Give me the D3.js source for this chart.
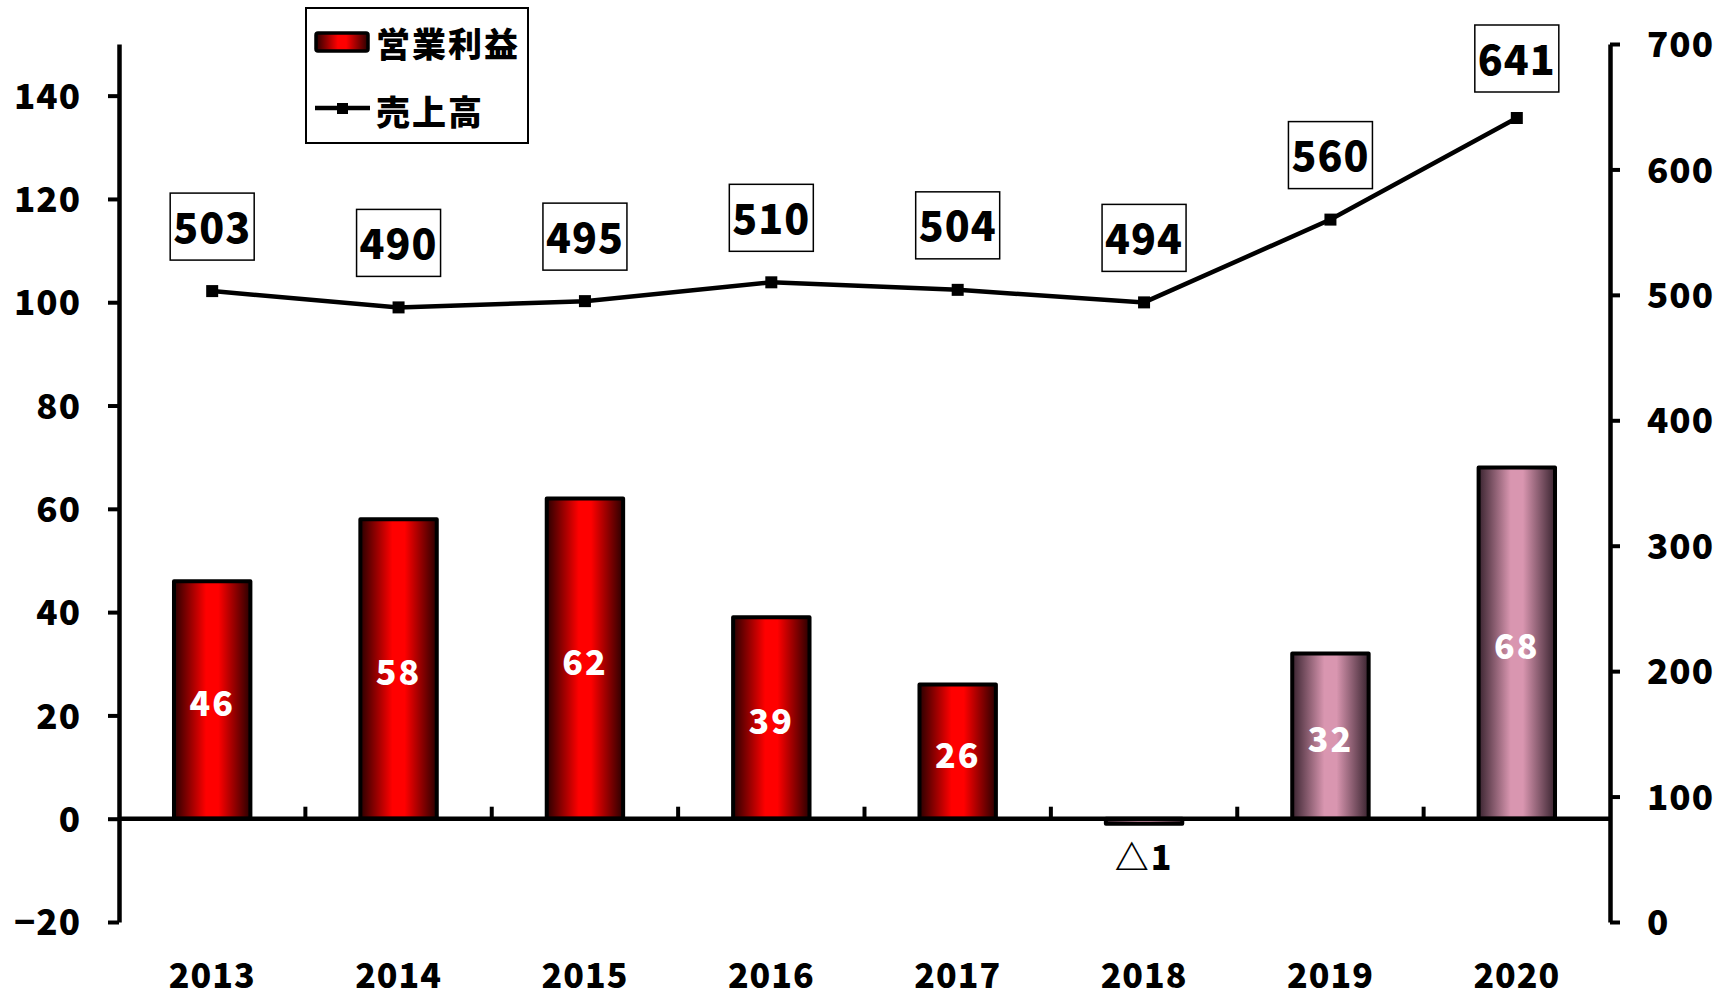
<!DOCTYPE html>
<html>
<head>
<meta charset="utf-8">
<script src="https://cdn.jsdelivr.net/npm/d3@7"></script>
<style>
  body { margin: 0; background: #fff; }
  svg { display: block; }
  text { font-family: "Noto Sans CJK JP", "Noto Sans", sans-serif; font-weight: 900; }
</style>
</head>
<body>
<svg id="chart" width="1733" height="997"></svg>
<script>
var years = ["2013", "2014", "2015", "2016", "2017", "2018", "2019", "2020"];
var profit = [46, 58, 62, 39, 26, -1, 32, 68];     // 営業利益 (left axis)
var sales = [503, 490, 495, 510, 504, 494, 560, 641]; // 売上高 (right axis)
var leftTicks = [-20, 0, 20, 40, 60, 80, 100, 120, 140];
var rightTicks = [0, 100, 200, 300, 400, 500, 600, 700];

var svg = d3.select("#chart");
var plotL = 119, plotR = 1610, plotT = 44, plotB = 922;

var x = d3.scaleBand().domain(years).range([plotL, plotR]).padding(0);
var yL = d3.scaleLinear().domain([-20, 150]).range([plotB, plotT]);
var yR = d3.scaleLinear().domain([0, 700]).range([plotB, plotT]);

// gradients
var defs = svg.append("defs");
function grad(id, edge, mid) {
    var g = defs.append("linearGradient").attr("id", id)
        .attr("x1", "0%").attr("x2", "100%").attr("y1", "0%").attr("y2", "0%");
    g.append("stop").attr("offset", "0%").attr("stop-color", edge);
    g.append("stop").attr("offset", "42%").attr("stop-color", mid);
    g.append("stop").attr("offset", "58%").attr("stop-color", mid);
    g.append("stop").attr("offset", "100%").attr("stop-color", edge);
}
grad("redGrad", "#2a0000", "#ff0000");
grad("pinkGrad", "#3a2430", "#d996b0");

// bars
var barW = x.bandwidth() * 0.41;
svg.selectAll(".bar")
    .data(profit)
    .enter().append("rect")
    .attr("class", "bar")
    .attr("x", function (d, i) { return x(years[i]) + (x.bandwidth() - barW) / 2; })
    .attr("y", function (d) { return yL(Math.max(0, d)); })
    .attr("width", barW)
    .attr("height", function (d) { return Math.abs(yL(d) - yL(0)); })
    .style("fill", function (d, i) { return i >= 5 ? "url(#pinkGrad)" : "url(#redGrad)"; })
    .style("stroke", "#000")
    .style("stroke-width", 4)
    .style("stroke-linejoin", "round");

// zero line and category ticks
svg.append("line")
    .attr("x1", plotL).attr("x2", plotR)
    .attr("y1", yL(0)).attr("y2", yL(0))
    .style("stroke", "#000").style("stroke-width", 4.5);

svg.selectAll(".ctick")
    .data(years.slice(1))
    .enter().append("line")
    .attr("x1", function (d) { return x(d); })
    .attr("x2", function (d) { return x(d); })
    .attr("y1", yL(0)).attr("y2", yL(0) - 12)
    .style("stroke", "#000").style("stroke-width", 4);

// left axis
var gl = svg.append("g")
    .attr("transform", "translate(" + plotL + ",0)")
    .call(d3.axisLeft(yL).tickValues(leftTicks).tickSize(11).tickSizeOuter(0).tickPadding(27));
// right axis
var gr = svg.append("g")
    .attr("transform", "translate(" + plotR + ",0)")
    .call(d3.axisRight(yR).tickValues(rightTicks).tickSize(10).tickSizeOuter(0).tickPadding(27));

[gl, gr].forEach(function (g) {
    g.select(".domain").style("stroke", "#000").style("stroke-width", 4.5);
    g.selectAll(".tick line").style("stroke", "#000").style("stroke-width", 4);
    g.selectAll(".tick text")
        .style("font-size", "35px")
        .style("font-family", "'Noto Sans CJK JP', sans-serif")
        .style("font-weight", "900")
        .style("letter-spacing", "1px")
        .style("fill", "#000")
        .attr("dy", "0.36em")
        .text(function (d) { return d < 0 ? "\u2212" + Math.abs(d) : d; });
});

// x labels
svg.selectAll(".xlab")
    .data(years)
    .enter().append("text")
    .attr("x", function (d) { return x(d) + x.bandwidth() / 2; })
    .attr("y", 988)
    .attr("text-anchor", "middle")
    .style("font-size", "34px")
    .style("letter-spacing", "1px")
    .text(function (d) { return d; });

// bar labels
svg.selectAll(".blab")
    .data(profit)
    .enter().append("text")
    .attr("x", function (d, i) { return x(years[i]) + x.bandwidth() / 2; })
    .attr("y", function (d) {
        if (d < 0) return yL(d) + 46;
        return (yL(d) + yL(0)) / 2 + 16;
    })
    .attr("text-anchor", "middle")
    .style("font-size", "34px")
    .style("letter-spacing", "2px")
    .style("fill", function (d) { return d < 0 ? "#000" : "#fff"; })
    .text(function (d) { return d < 0 ? "\u25b3" + Math.abs(d) : d; });

// sales line
var line = d3.line()
    .x(function (d, i) { return x(years[i]) + x.bandwidth() / 2; })
    .y(function (d) { return yR(d); });

svg.append("path")
    .datum(sales)
    .attr("d", line)
    .style("fill", "none")
    .style("stroke", "#000")
    .style("stroke-width", 4.5);

svg.selectAll(".pt")
    .data(sales)
    .enter().append("rect")
    .attr("x", function (d, i) { return x(years[i]) + x.bandwidth() / 2 - 6; })
    .attr("y", function (d) { return yR(d) - 6; })
    .attr("width", 12).attr("height", 12)
    .style("fill", "#000");

// sales labels in boxes
var boxW = 84, boxH = 67;
var lab = svg.selectAll(".slab")
    .data(sales)
    .enter().append("g")
    .attr("transform", function (d, i) {
        var cx = x(years[i]) + x.bandwidth() / 2;
        var ty = Math.max(25, yR(d) - 31 - boxH);
        return "translate(" + (cx - boxW / 2) + "," + ty + ")";
    });
lab.append("rect")
    .attr("width", boxW).attr("height", boxH)
    .style("fill", "#fff").style("stroke", "#000").style("stroke-width", 1.5);
lab.append("text")
    .attr("x", boxW / 2).attr("y", boxH / 2 + 16)
    .attr("text-anchor", "middle")
    .style("font-size", "41px")
    .style("letter-spacing", "1px")
    .text(function (d) { return d; });

// legend
var lg = svg.append("g");
lg.append("rect")
    .attr("x", 306).attr("y", 8).attr("width", 222).attr("height", 135)
    .style("fill", "#fff").style("stroke", "#000").style("stroke-width", 2);
lg.append("rect")
    .attr("x", 316).attr("y", 33).attr("width", 52).attr("height", 18)
    .attr("rx", 2)
    .style("fill", "url(#redGrad)").style("stroke", "#000").style("stroke-width", 3.5);
lg.append("text")
    .attr("x", 376).attr("y", 57)
    .style("font-size", "34px").style("letter-spacing", "2px")
    .text("営業利益");
lg.append("line")
    .attr("x1", 315).attr("x2", 370).attr("y1", 108).attr("y2", 108)
    .style("stroke", "#000").style("stroke-width", 4.5);
lg.append("rect")
    .attr("x", 337).attr("y", 103).attr("width", 11).attr("height", 11)
    .style("fill", "#000");
lg.append("text")
    .attr("x", 376).attr("y", 125)
    .style("font-size", "34px").style("letter-spacing", "2px")
    .text("売上高");
</script>
</body>
</html>
